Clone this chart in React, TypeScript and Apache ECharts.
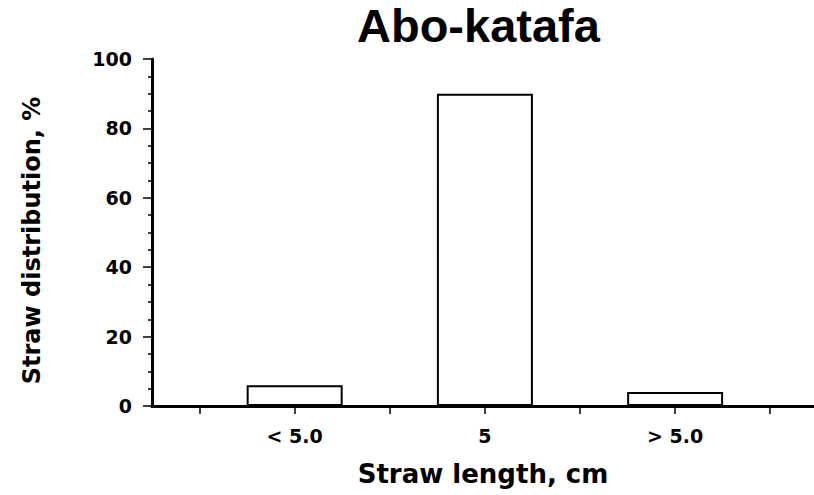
import React, { useEffect, useRef } from "react";
import * as echarts from "echarts";

const title = "Abo-katafa";
const categories = ["< 5.0", "5", "> 5.0"];
const values = [6, 90, 4];
const xTickPositions = [0.5, 1, 1.5, 2, 2.5, 3, 3.5];
const xName = "Straw length, cm";
const yName = "Straw distribution, %";

export default function App() {
  const ref = useRef<HTMLDivElement>(null);
  useEffect(() => {
    document.body.style.margin = "0";
    const chart = echarts.init(ref.current!, null, { renderer: "svg" });
    const labelFont = {
      color: "#000",
      fontFamily: "DejaVu Sans",
      fontWeight: "bold" as const,
      fontSize: 19,
    };
    chart.setOption({
      animation: false,
      backgroundColor: "#fff",
      title: {
        text: title,
        left: 357,
        top: 2,
        padding: 0,
        textStyle: {
          fontFamily: "Liberation Sans",
          fontWeight: "bold",
          fontSize: 47,
          color: "#000",
        },
      },
      grid: { left: 152, right: 0, top: 59, bottom: 89, containLabel: false },
      xAxis: {
        type: "value",
        min: 0.25,
        max: 3.73,
        z: 5,
        name: xName,
        nameLocation: "middle",
        nameGap: 55,
        nameTextStyle: { ...labelFont, fontSize: 26 },
        splitLine: { show: false },
        axisLine: { show: true, onZero: false, lineStyle: { color: "#000", width: 3 } },
        axisTick: {
          show: true,
          length: 8,
          customValues: xTickPositions,
          lineStyle: { color: "#000", width: 1.5 },
        },
        axisLabel: {
          ...labelFont,
          margin: 20,
          customValues: categories.map((_, i) => i + 1),
          formatter: (v: number) => categories[Math.round(v) - 1] ?? "",
        },
      },
      yAxis: {
        type: "value",
        min: 0,
        max: 100,
        interval: 20,
        z: 5,
        name: yName,
        nameLocation: "middle",
        nameGap: 108,
        nameTextStyle: { ...labelFont, fontSize: 24, padding: [0, 16, 0, 0] },
        splitLine: { show: false },
        axisLine: { show: true, lineStyle: { color: "#000", width: 3 } },
        axisTick: { show: true, length: 9, lineStyle: { color: "#000", width: 1.5 } },
        minorTick: { show: true, splitNumber: 4, length: 4, lineStyle: { color: "#000", width: 1.5 } },
        axisLabel: { ...labelFont, margin: 20 },
      },
      series: [
        {
          type: "bar",
          barWidth: 96,
          data: values.map((v, i) => [i + 1, v]),
          itemStyle: { color: "#fff", borderColor: "#000", borderWidth: 2 },
        },
      ],
    });
    return () => chart.dispose();
  }, []);
  return <div ref={ref} style={{ width: 814, height: 495 }} />;
}
